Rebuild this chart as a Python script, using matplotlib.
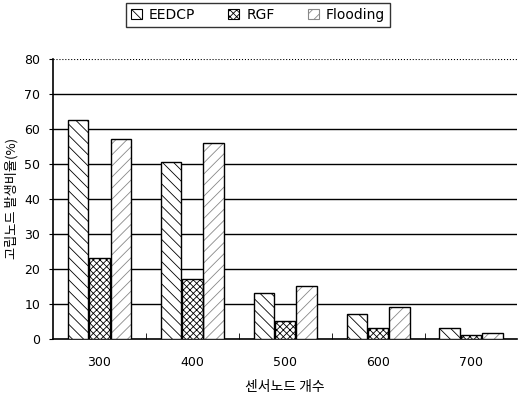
import matplotlib
matplotlib.use("Agg")
import matplotlib.pyplot as plt
from matplotlib.patches import Patch
import numpy as np

plt.rcParams['font.family'] = ['Noto Sans CJK KR', 'DejaVu Sans']
plt.rcParams['hatch.linewidth'] = 0.6

categories = ['300', '400', '500', '600', '700']
series_names = ['EEDCP', 'RGF', 'Flooding']
eedcp = [62.5, 50.5, 13, 7, 3]
rgf = [23, 17, 5, 3, 1]
flooding = [57, 56, 15, 9, 1.7]
yticks = [0, 10, 20, 30, 40, 50, 60, 70, 80]

fig = plt.figure(figsize=(5.19, 4.03), dpi=100)
ax = fig.add_axes([0.102, 0.159, 0.895, 0.695])

x = np.arange(len(categories))
w = 0.22
styles = [
    dict(facecolor='white', edgecolor='black', hatch='\\\\\\'),
    dict(facecolor='white', edgecolor='black', hatch='xxxxx'),
    dict(facecolor='white', edgecolor='#888888', hatch='///'),
]
data = [eedcp, rgf, flooding]
handles = []
for i, (vals, st, name) in enumerate(zip(data, styles, series_names)):
    pos = x + (i - 1) * (w + 0.01)
    ax.bar(pos, vals, width=w, facecolor=st['facecolor'],
           edgecolor=st['edgecolor'], hatch=st['hatch'], linewidth=0.0, zorder=3)
    ax.bar(pos, vals, width=w, facecolor='none',
           edgecolor='black', linewidth=1.0, zorder=4)
    handles.append(Patch(facecolor='white', edgecolor=st['edgecolor'],
                         hatch=st['hatch'], linewidth=0.8))

ax.set_xlim(-0.5, len(categories) - 0.5)
ax.set_ylim(0, 80)
ax.set_yticks(yticks)
ax.set_xticks(x)
ax.set_xticklabels(categories, family='DejaVu Sans', fontsize=9)
for lbl in ax.get_yticklabels():
    lbl.set_family('DejaVu Sans')
    lbl.set_fontsize(9)
ax.tick_params(axis='x', length=0, pad=12)
ax.tick_params(axis='y', length=3, direction='out', pad=6)
ax.set_xticks(np.arange(0.5, len(categories) - 0.5, 1), minor=True)
ax.tick_params(axis='x', which='minor', length=4, direction='in')

for yv in yticks[1:-1]:
    ax.axhline(yv, color='black', linewidth=1.0, zorder=1)
ax.axhline(80, color='black', linewidth=0.8, linestyle=':', zorder=1)

for s in ['top', 'right']:
    ax.spines[s].set_visible(False)
ax.spines['left'].set_linewidth(1.2)
ax.spines['bottom'].set_linewidth(1.2)

ax.set_ylabel('고립노드 발생비율(%)', fontsize=9.5, labelpad=4)
ax.set_xlabel('센서노드 개수', fontsize=10, labelpad=8)

leg = fig.legend(handles=handles, labels=series_names, loc='upper center',
                 bbox_to_anchor=(0.497, 1.0), ncol=3, frameon=True,
                 fancybox=False, edgecolor='black', fontsize=10,
                 handlelength=0.8, handleheight=0.8, columnspacing=2.4,
                 handletextpad=0.5, borderpad=0.35, borderaxespad=0.2)
leg.get_frame().set_linewidth(1.0)
for t in leg.get_texts():
    t.set_family('DejaVu Sans')

fig.savefig('out.png', dpi=100)
